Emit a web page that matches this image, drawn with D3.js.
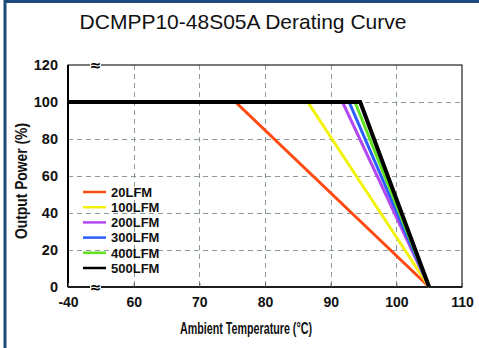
<!DOCTYPE html>
<html><head><meta charset="utf-8">
<script src="https://cdn.jsdelivr.net/npm/d3@7"></script>
<style>
html,body{margin:0;padding:0;background:#fff;}
svg{display:block;}
</style></head>
<body>
<svg id="c" width="479" height="348"></svg>
<script>
const seriesNames = ["20LFM","100LFM","200LFM","300LFM","400LFM","500LFM"];
const seriesColors = ["#ff4a12","#f2f20a","#b448f0","#2a5cff","#5ee21e","#000000"];
const breakTemps = [75.5, 86.5, 91.8, 92.8, 93.7, 94.5];
const fullPower = [100, 100, 100, 100, 100, 100];
const endTemp = 105;
const startTemp = 50;
const xTickValues = [50, 60, 70, 80, 90, 100, 110];
const xTickLabels = ["-40","60","70","80","90","100","110"];
const yTickValues = [0, 20, 40, 60, 80, 100, 120];

const svg = d3.select("#c");
const W = 479, H = 348;
const L = 68, R = 462, T = 65, B = 287;
const x = d3.scaleLinear().domain([50,110]).range([L,R]);
const y = d3.scaleLinear().domain([0,120]).range([B,T]);

// outer blue frame (top + left)
svg.append("line").attr("x1",4).attr("x2",W).attr("y1",1.5).attr("y2",1.5).attr("stroke","#1c4a7c").attr("stroke-width",3);
svg.append("line").attr("x1",5).attr("x2",5).attr("y1",0).attr("y2",H).attr("stroke","#1c4a7c").attr("stroke-width",3);

// title
svg.append("text").attr("x",243).attr("y",29).attr("text-anchor","middle")
  .attr("font-family","Liberation Sans, Arial, sans-serif").attr("font-size",21).attr("fill","#111")
  .text("DCMPP10-48S05A Derating Curve");

// gridlines
const grid = svg.append("g").attr("stroke","#8c9c9c").attr("stroke-width",1).attr("stroke-dasharray","5,4");
xTickValues.slice(1,-1).forEach(v=>{
  grid.append("line").attr("x1",Math.round(x(v))+0.5).attr("x2",Math.round(x(v))+0.5).attr("y1",T).attr("y2",B);
});
yTickValues.slice(1,-1).forEach(v=>{
  grid.append("line").attr("x1",L).attr("x2",R).attr("y1",Math.round(y(v))+0.5).attr("y2",Math.round(y(v))+0.5);
});

// frame
svg.append("rect").attr("x",L).attr("y",T).attr("width",R-L).attr("height",B-T)
  .attr("fill","none").attr("stroke","#222").attr("stroke-width",1.2);
svg.append("line").attr("x1",L).attr("x2",L).attr("y1",T).attr("y2",B).attr("stroke","#000").attr("stroke-width",2);
svg.append("line").attr("x1",L).attr("x2",R).attr("y1",B).attr("y2",B).attr("stroke","#000").attr("stroke-width",1.5);

// bottom axis via d3
const xAxis = d3.axisBottom(x).tickValues(xTickValues).tickFormat((d,i)=>xTickLabels[i]).tickSize(-4).tickPadding(10);
const gx = svg.append("g").attr("transform",`translate(0,${B})`).call(xAxis);
gx.select(".domain").remove();
gx.selectAll(".tick line").attr("stroke","#555");
gx.selectAll("text").attr("font-family","Liberation Sans, Arial, sans-serif").attr("font-weight","bold").attr("font-size",14).attr("fill","#111");

const yAxis = d3.axisLeft(y).tickValues(yTickValues).tickSize(0).tickPadding(10);
const gy = svg.append("g").attr("transform",`translate(${L},0)`).call(yAxis);
gy.select(".domain").remove();
gy.selectAll("text").attr("font-family","Liberation Sans, Arial, sans-serif").attr("font-weight","bold").attr("font-size",14.5).attr("fill","#111");

// break symbols
[T,B].forEach(yy=>{
  svg.append("rect").attr("x",90).attr("y",yy-3).attr("width",11).attr("height",6).attr("fill","#fff");
  svg.append("text").attr("x",95.5).attr("y",yy+5).attr("text-anchor","middle")
    .attr("font-family","DejaVu Sans, sans-serif").attr("font-weight","bold").attr("font-size",14).attr("fill","#000").text("≈");
});

// series lines
const line = d3.line().x(d=>x(d[0])).y(d=>y(d[1]));
seriesNames.forEach((n,i)=>{
  const pts = [[startTemp, fullPower[i]],[breakTemps[i], fullPower[i]],[endTemp, 0]];
  svg.append("path").datum(pts).attr("d",line).attr("fill","none")
    .attr("stroke",seriesColors[i]).attr("stroke-width", i===5?4:3).attr("stroke-linejoin","miter");
});

// legend
const lg = svg.append("g");
seriesNames.forEach((n,i)=>{
  const yy = 192 + i*15.2;
  lg.append("line").attr("x1",83).attr("x2",106).attr("y1",yy).attr("y2",yy).attr("stroke",seriesColors[i]).attr("stroke-width",2.5);
  lg.append("text").attr("x",111).attr("y",yy+4.8).attr("font-family","Liberation Sans, Arial, sans-serif")
    .attr("font-weight","bold").attr("font-size",13).attr("fill","#111").text(n);
});

// axis titles
svg.append("text").attr("x",246).attr("y",334).attr("text-anchor","middle")
  .attr("font-family","Liberation Sans, Arial, sans-serif").attr("font-weight","bold").attr("font-size",16.5)
  .attr("textLength",132).attr("lengthAdjust","spacingAndGlyphs").attr("fill","#111")
  .text("Ambient Temperature (°C)");
svg.append("text").attr("transform","translate(27,181) rotate(-90)").attr("text-anchor","middle")
  .attr("font-family","Liberation Sans, Arial, sans-serif").attr("font-weight","bold").attr("font-size",16.5)
  .attr("textLength",116).attr("lengthAdjust","spacingAndGlyphs").attr("fill","#111")
  .text("Output Power (%)");
</script>
</body></html>
